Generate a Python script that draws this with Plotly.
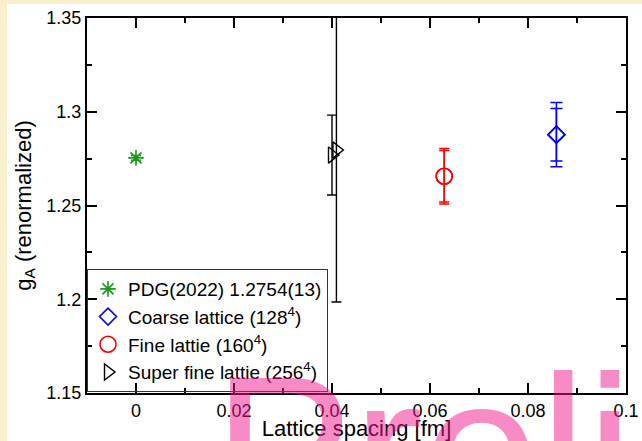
import plotly.graph_objects as go

# ---- data ----
pdg_x = [0.0]
pdg_y = [1.2754]
pdg_err = [0.0013]

coarse_x = [0.0858]
coarse_y = [1.2878]
coarse_err_stat = [0.0140]
coarse_err_tot = [0.0171]

fine_x = [0.0629]
fine_y = [1.2656]
fine_err_stat = [0.0137]
fine_err_tot = [0.0148]

super_x = [0.0400]
super_y = [1.2769]
super_err = [0.0213]
super2_x = [0.0409]
super2_y = [1.2796]
super2_err = [0.0811]

W, H = 642, 441
ML, MR, MT, MB = 87, 16, 18, 48
PW, PH = W - ML - MR, H - MT - MB


def px_x(p):
    return (p - ML) / PW


def px_y(p):
    return (H - MB - p) / PH


FONT = "Liberation Sans, Arial, sans-serif"
fig = go.Figure()

fig.add_trace(go.Scatter(
    x=pdg_x, y=pdg_y, mode="markers", name="PDG(2022) 1.2754(13)",
    legendgroup="a",
    marker=dict(symbol="asterisk-open", size=13, color="#1a9a1a", line=dict(width=1.6, color="#1a9a1a")),
    error_y=dict(type="data", array=pdg_err, color="#1a9a1a", thickness=1.5, width=5)))

fig.add_trace(go.Scatter(
    x=coarse_x, y=coarse_y, mode="markers", name="Coarse lattice (128<sup>4</sup>)",
    legendgroup="b",
    marker=dict(symbol="diamond-open", size=13, color="blue", line=dict(width=1.6, color="blue")),
    error_y=dict(type="data", array=coarse_err_stat, color="blue", thickness=1.5, width=6)))
fig.add_trace(go.Scatter(
    x=coarse_x, y=coarse_y, mode="markers", showlegend=False, legendgroup="b",
    marker=dict(symbol="diamond-open", size=13, color="blue", line=dict(width=1.6, color="blue")),
    error_y=dict(type="data", array=coarse_err_tot, color="blue", thickness=1.5, width=6)))

fig.add_trace(go.Scatter(
    x=fine_x, y=fine_y, mode="markers", name="Fine lattie (160<sup>4</sup>)",
    legendgroup="c",
    marker=dict(symbol="circle-open", size=16, color="red", line=dict(width=1.6, color="red")),
    error_y=dict(type="data", array=fine_err_stat, color="red", thickness=1.5, width=5)))
fig.add_trace(go.Scatter(
    x=fine_x, y=fine_y, mode="markers", showlegend=False, legendgroup="c",
    marker=dict(symbol="circle-open", size=16, color="red", line=dict(width=1.6, color="red")),
    error_y=dict(type="data", array=fine_err_tot, color="red", thickness=1.5, width=5)))

fig.add_trace(go.Scatter(
    x=super_x, y=super_y, mode="markers", name="Super fine lattie (256<sup>4</sup>)",
    legendgroup="d",
    marker=dict(symbol="triangle-right-open", size=14, color="black", line=dict(width=1.4, color="black")),
    error_y=dict(type="data", array=super_err, color="black", thickness=1.4, width=5)))
fig.add_trace(go.Scatter(
    x=super2_x, y=super2_y, mode="markers", showlegend=False, legendgroup="d",
    marker=dict(symbol="triangle-right-open", size=14, color="black", line=dict(width=1.4, color="black")),
    error_y=dict(type="data", array=super2_err, color="black", thickness=1.4, width=5)))

axis_common = dict(
    showline=True, linewidth=2, linecolor="black", mirror="allticks",
    ticks="inside", ticklen=10, tickwidth=1.5, tickcolor="black",
    showgrid=False, zeroline=False,
    tickfont=dict(family=FONT, size=18, color="black"),
)

fig.update_xaxes(range=[-0.01, 0.1], dtick=0.02, tick0=0,
                 minor=dict(ticks="inside", ticklen=5, dtick=0.01, tick0=0, tickcolor="black", tickwidth=1.5, showgrid=False),
                 title=dict(text="Lattice spacing [fm]", font=dict(family=FONT, size=22, color="black"), standoff=1),
                 **axis_common)
fig.update_yaxes(range=[1.15, 1.35], dtick=0.05, tick0=1.15,
                 minor=dict(ticks="inside", ticklen=5, dtick=0.025, tick0=1.15, tickcolor="black", tickwidth=1.5, showgrid=False),
                 title=dict(text="g<sub>A</sub> (renormalized)", font=dict(family=FONT, size=22, color="black"), standoff=9),
                 **axis_common)

BEIGE = "#f9efcc"
shapes = [
    dict(type="rect", xref="paper", yref="paper", layer="below",
         x0=px_x(-5), x1=px_x(7), y0=px_y(H + 5), y1=px_y(-5),
         fillcolor=BEIGE, line=dict(width=0)),
    dict(type="rect", xref="paper", yref="paper", layer="below",
         x0=px_x(-5), x1=px_x(W + 5), y0=px_y(4), y1=px_y(-5),
         fillcolor=BEIGE, line=dict(width=0)),
]

fig.update_layout(
    width=W, height=H,
    margin=dict(l=ML, r=MR, t=MT, b=MB, autoexpand=False),
    paper_bgcolor="white", plot_bgcolor="white",
    font=dict(family=FONT, size=18, color="black"),
    shapes=shapes,
    legend=dict(x=0, y=px_y(269), xanchor="left", yanchor="top",
                bgcolor="rgba(255,255,255,0)", bordercolor="#333333", borderwidth=1,
                font=dict(family=FONT, size=19, color="black"),
                tracegroupgap=9, traceorder="normal"),
    annotations=[dict(
        text="Preliminary", xref="paper", yref="paper",
        x=px_x(211), y=px_y(330), xanchor="left", yanchor="top",
        showarrow=False, opacity=0.5,
        font=dict(family=FONT, size=210, color="#f01a8c"))],
)

fig.write_html("out.html")
